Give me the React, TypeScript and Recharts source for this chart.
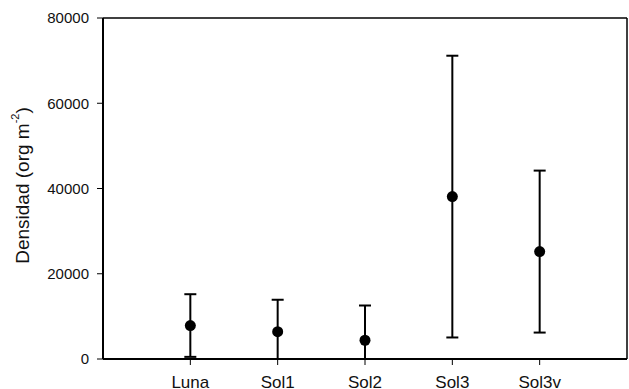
import { ScatterChart, Scatter, XAxis, YAxis, ErrorBar, ReferenceLine } from 'recharts';

const sites = ['Luna', 'Sol1', 'Sol2', 'Sol3', 'Sol3v'];
const density = [7850, 6400, 4400, 38100, 25200];
const densityErr = [7350, 7500, 8150, 33050, 19000];
const yTicks = [0, 20000, 40000, 60000, 80000];

// bars below zero are cut at the axis
const rows = sites.map((site, i) => ({
  site,
  pos: i + 1,
  mean: density[i],
  err: [Math.min(densityErr[i], density[i]), densityErr[i]],
}));

const font = '"Liberation Sans", Arial, Helvetica, sans-serif';

const Dot = (p: any) => <circle cx={p.cx} cy={p.cy} r={5.5} fill="#000" />;

const YLabel = ({ viewBox }: any) => {
  const x = viewBox.x + 22;
  const y = viewBox.y + viewBox.height / 2 - 3;
  return (
    <text
      x={x}
      y={y}
      transform={`rotate(-90 ${x} ${y})`}
      textAnchor="middle"
      dominantBaseline="central"
      fontFamily={font}
      fontSize={19}
      fill="#111"
    >
      Densidad (org m
      <tspan fontSize={11} dy={-7}>-2</tspan>
      <tspan dy={7}>)</tspan>
    </text>
  );
};

export default function App() {
  return (
    <div style={{ position: 'absolute', left: 0, top: 0, background: '#fff' }}>
      <ScatterChart
        width={629}
        height={389}
        margin={{ top: 18, right: 2, left: 0, bottom: 0 }}
      >
        <XAxis
          type="number"
          dataKey="pos"
          domain={[0, 6]}
          ticks={[1, 2, 3, 4, 5]}
          tickFormatter={(v: number) => sites[v - 1]}
          height={30}
          axisLine={{ stroke: '#000', strokeWidth: 2 }}
          tickLine={{ stroke: '#000', strokeWidth: 1 }}
          tickSize={6}
          tickMargin={11}
          tick={{ fill: '#111', fontSize: 17, fontFamily: font }}
        />
        <YAxis
          type="number"
          dataKey="mean"
          domain={[0, 80000]}
          ticks={yTicks}
          width={103}
          axisLine={{ stroke: '#000', strokeWidth: 2 }}
          tickLine={{ stroke: '#000', strokeWidth: 1 }}
          tickSize={6}
          tickMargin={8}
          tick={{ fill: '#111', fontSize: 15, fontFamily: font }}
          label={<YLabel />}
        />
        {/* frame: top and right edges */}
        <ReferenceLine y={80000} stroke="#000" strokeWidth={1.5} />
        <ReferenceLine x={6} stroke="#000" strokeWidth={1.5} />
        <Scatter data={rows} dataKey="mean" shape={Dot} isAnimationActive={false}>
          <ErrorBar
            dataKey="err"
            direction="y"
            width={6}
            stroke="#000"
            strokeWidth={2}
            isAnimationActive={false}
          />
        </Scatter>
      </ScatterChart>
    </div>
  );
}
